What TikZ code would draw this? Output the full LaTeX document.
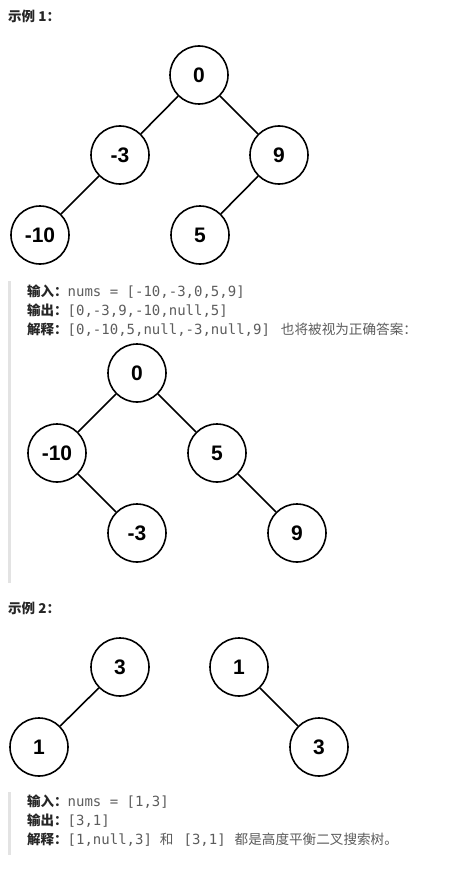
\documentclass[tikz,border=0pt]{standalone}
\usepackage{fontspec}
\setmainfont{Liberation Sans}
\newfontfamily\cjk{Noto Sans CJK SC}
\newfontfamily\mono{DejaVu Sans Mono}
\definecolor{labelc}{HTML}{262626}
\definecolor{codec}{HTML}{5C5C5C}
\definecolor{barc}{HTML}{E3E3E3}
\begin{document}
\begin{tikzpicture}[x=1pt,y=-1pt,
  tn/.style={circle,draw=black,line width=1.6pt,minimum size=58pt,inner sep=0pt,
    font=\fontsize{21}{21}\selectfont\bfseries},
  edge/.style={line width=1.6pt},
  txt/.style={anchor=base west,inner sep=0pt,font=\fontsize{13.5}{16}\selectfont},
  bar/.style={fill=barc,draw=none}]
\useasboundingbox (0,0) rectangle (464,872);
\newcommand{\lab}[1]{{\cjk\bfseries\color{labelc}#1}}
\newcommand{\cde}[1]{{\mono\fontsize{14}{16}\selectfont\color{codec}#1}}
\newcommand{\zh}[1]{{\cjk\fontsize{13.6}{16}\selectfont\color{codec}#1}}
% headings
\node[txt] (h1) at (8,22) {\lab{示例 1：}};
\node[txt] (h2) at (8,613) {\lab{示例 2：}};
% bars
\fill[bar] (8,281) rectangle (10.5,583);
\fill[bar] (8,792) rectangle (10.5,855);
% tree 1
\node[tn] (a0) at (199,75) {0};
\node[tn] (a3) at (120,155) {-3};
\node[tn] (a9) at (279,155) {9};
\node[tn] (a10) at (40,235) {-10};
\node[tn] (a5) at (200,235) {5};
\draw[edge] (a0) -- (a3);
\draw[edge] (a0) -- (a9);
\draw[edge] (a3) -- (a10);
\draw[edge] (a9) -- (a5);
% text 1
\node[txt] (t1) at (27,296) {\lab{输入：}\cde{nums = [-10,-3,0,5,9]}};
\node[txt] (t2) at (27,315) {\lab{输出：}\cde{[0,-3,9,-10,null,5]}};
\node[txt] (t3) at (27,334) {\lab{解释：}\cde{[0,-10,5,null,-3,null,9]}\hspace{11pt}\zh{也将被视为正确答案：}};
% tree 2
\node[tn] (b0) at (137,373) {0};
\node[tn] (b10) at (57,453) {-10};
\node[tn] (b5) at (217,453) {5};
\node[tn] (b3) at (137,533) {-3};
\node[tn] (b9) at (297,533) {9};
\draw[edge] (b0) -- (b10);
\draw[edge] (b0) -- (b5);
\draw[edge] (b10) -- (b3);
\draw[edge] (b5) -- (b9);
% example 2 trees
\node[tn] (c3) at (120,667) {3};
\node[tn] (c1) at (39,747) {1};
\draw[edge] (c3) -- (c1);
\node[tn] (d1) at (239,667) {1};
\node[tn] (d3) at (319,747) {3};
\draw[edge] (d1) -- (d3);
% text 2
\node[txt] (u1) at (27,806) {\lab{输入：}\cde{nums = [1,3]}};
\node[txt] (u2) at (27,825) {\lab{输出：}\cde{[3,1]}};
\node[txt] (u3) at (27,844) {\lab{解释：}\cde{[1,null,3]}\hspace{8pt}\zh{和}\hspace{10pt}\cde{[3,1]}\hspace{9pt}\zh{都是高度平衡二叉搜索树。}};
\end{tikzpicture}
\end{document}
